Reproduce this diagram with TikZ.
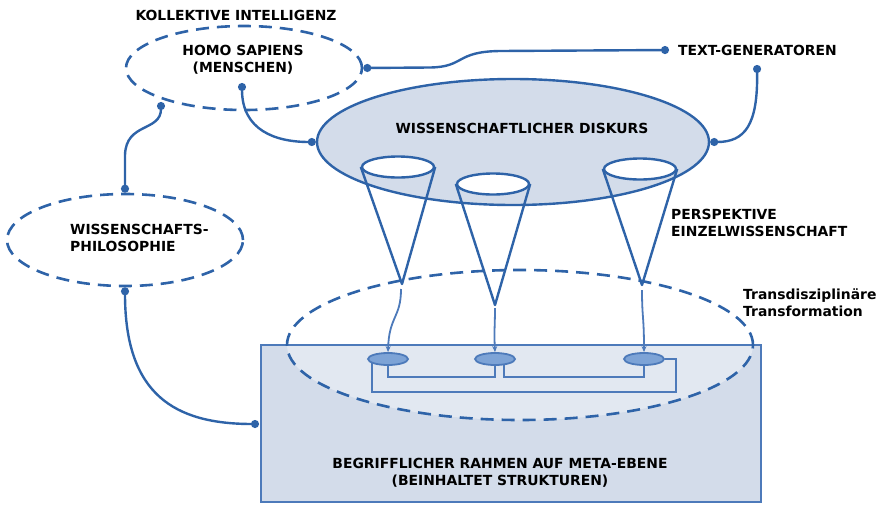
\documentclass[tikz,border=0pt]{standalone}
\usepackage{fontspec}
\setmainfont{DejaVu Sans}
\usetikzlibrary{shapes.geometric,arrows.meta}
\definecolor{mblue}{RGB}{46,99,168}
\definecolor{lblue}{RGB}{77,122,186}
\definecolor{bfill}{RGB}{211,220,234}
\definecolor{sfill}{RGB}{125,163,214}
\begin{document}
\begin{tikzpicture}[x=1pt,y=-1pt,
  lbl/.style={font=\bfseries\fontsize{13.9}{17}\selectfont, align=center, inner sep=0pt},
  lbll/.style={lbl, align=left, anchor=west},
  dashell/.style={ellipse, draw=mblue, line width=2.6pt, dash pattern=on 13pt off 8pt, inner sep=0pt},
  conn/.style={draw=mblue, line width=2.4pt, {Circle[length=8pt]}-{Circle[length=8pt]}},
  conetop/.style={ellipse, draw=mblue, fill=white, line width=2.4pt, minimum width=72pt, minimum height=21pt, inner sep=0pt},
  coneline/.style={draw=mblue, line width=2.4pt, line join=round},
  smallell/.style={ellipse, draw=lblue, fill=sfill, line width=1.8pt, minimum width=40pt, minimum height=12pt, inner sep=0pt},
  wire/.style={draw=lblue, line width=2pt},
  wavy/.style={draw=lblue, line width=1.8pt, -{Stealth[length=6pt,width=5pt]}}
]
\useasboundingbox (0,0) rectangle (881,504);

% frame of meta level
\node[rectangle, fill=bfill, minimum width=500pt, minimum height=157pt, inner sep=0pt] (rahmen) at (511,423.5) {};
\node[ellipse, fill=white, fill opacity=0.35, minimum width=466pt, minimum height=150pt, inner sep=0pt] (transfill) at (520,345) {};
\draw[lblue, line width=2.4pt] (rahmen.north west) rectangle (rahmen.south east);
\node[dashell, minimum width=466pt, minimum height=150pt] (trans) at (520,345) {};

% discourse ellipse
\node[ellipse, draw=mblue, fill=bfill, line width=2.4pt, minimum width=392pt, minimum height=126pt, inner sep=0pt] (diskurs) at (513,142) {};

% dashed ellipses
\node[dashell, minimum width=236pt, minimum height=84pt] (homo) at (244,68) {};
\node[dashell, minimum width=236pt, minimum height=92pt] (philo) at (125,240) {};

% texts
\node[lbl] (kollektiv) at (236,15) {KOLLEKTIVE INTELLIGENZ};
\node[lbl] (homotext) at (243,60) {HOMO SAPIENS\\(MENSCHEN)};
\node[lbl] (disktext) at (522,128) {WISSENSCHAFTLICHER DISKURS};
\node[lbll] (tg) at (678,50) {TEXT-GENERATOREN};
\node[lbll] (philotext) at (70,238) {WISSENSCHAFTS-\\PHILOSOPHIE};
\node[lbll] (persp) at (671,223) {PERSPEKTIVE\\EINZELWISSENSCHAFT};
\node[lbll] (transtext) at (743,303) {Transdisziplinäre\\Transformation};
\node[lbl] (rahmentext) at (500,473) {BEGRIFFLICHER RAHMEN AUF META-EBENE\\(BEINHALTET STRUKTUREN)};

% connector end points
\coordinate (hin) at (242,83);
\coordinate (hbl) at (161,102);
\coordinate (tgdot) at (669,50);
\coordinate (tgdot2) at (757,65);
\coordinate (rleft) at (259,424);

% connectors
\draw[conn] (homo.east) -- (430,67.5) .. controls (465,67) and (455,51.5) .. (500,51) -- (tgdot);
\draw[conn] (tgdot2) .. controls (758,125) and (745,142) .. (diskurs.east);
\draw[conn] (hin) .. controls (242,130) and (275,142) .. (diskurs.west);
\draw[conn] (hbl) .. controls (161,132) and (126,122) .. (125,155) -- (philo.north);
\draw[conn] (philo.south) .. controls (125,395) and (175,424) .. (rleft);

% cones
\node[conetop] (c1) at (398,167) {};
\node[conetop] (c2) at (493,184) {};
\node[conetop] (c3) at (640,169) {};
\coordinate (a1) at (402,284);
\coordinate (a2) at (495,305);
\coordinate (a3) at (642,285);
\draw[coneline] (c1.west) -- (a1) -- (c1.east);
\draw[coneline] (c2.west) -- (a2) -- (c2.east);
\draw[coneline] (c3.west) -- (a3) -- (c3.east);

% structures
\node[smallell] (s1) at (388,359) {};
\node[smallell] (s2) at (495,359) {};
\node[smallell] (s3) at (644,359) {};
\coordinate (low1) at (0,377);
\coordinate (rc) at (676,392);

\draw[wavy] (401,289) .. controls (401,318) and (389,316) .. (s1.north);
\draw[wavy] (495,308) .. controls (495,325) and (494,330) .. (s2.north);
\draw[wavy] (642,290) .. controls (642,318) and (644,316) .. (s3.north);

\draw[wire] (s1.south) -- (s1.south |- low1) -| (s2.south);
\draw[wire] (s2.-35) -- (s2.-35 |- low1) -| (s3.south);
\draw[wire] (s1.-165) |- (rc) |- (s3.east);
\end{tikzpicture}
\end{document}
